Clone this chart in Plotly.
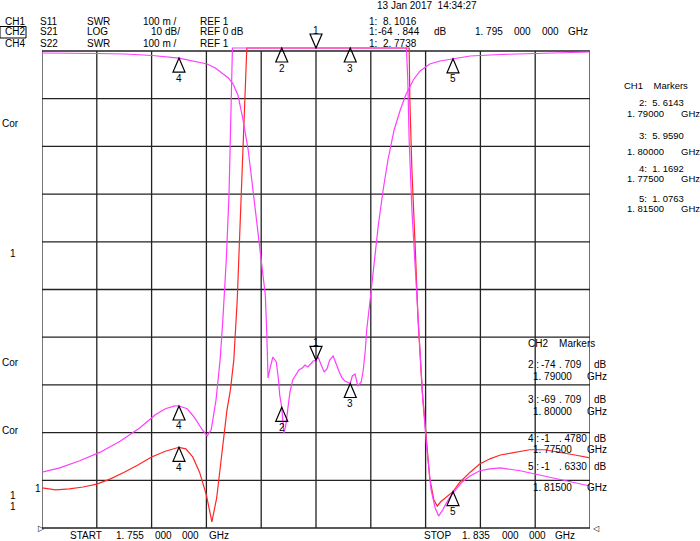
import numpy as np
import plotly.graph_objects as go

f_start, f_stop = 1.755, 1.835          # GHz
freq_div = 0.008                        # GHz / division
swr_ref, swr_div = 1.0, 0.1             # CH1/CH4 SWR 100 m / REF 1
db_ref, db_div = 0.0, 10.0              # CH2 LOG 10 dB / REF 0 dB

# CH1 S11 (SWR) - red
s11_freq = [1.755, 1.757, 1.759, 1.761, 1.763, 1.765, 1.767, 1.769, 1.771, 1.773, 1.775, 1.776,
            1.777, 1.778, 1.779, 1.7798, 1.7805, 1.781, 1.7815, 1.782, 1.7825, 1.783, 1.7835,
            1.784, 1.7845, 1.7849, 1.786, 1.788, 1.790, 1.795, 1.800, 1.804, 1.807, 1.8082,
            1.8086, 1.8087, 1.8090, 1.8095, 1.8099, 1.8105, 1.8111, 1.8116, 1.8122, 1.8127,
            1.8132, 1.8140, 1.815, 1.8160, 1.8175, 1.8189, 1.8204, 1.8219, 1.8241, 1.8262,
            1.8284, 1.8306, 1.8328, 1.835]
s11_swr = [1.084, 1.080, 1.082, 1.086, 1.092, 1.103, 1.117, 1.132, 1.149, 1.161, 1.1692, 1.166,
           1.149, 1.117, 1.069, 1.013, 1.063, 1.122, 1.184, 1.247, 1.289, 1.352, 1.478,
           1.667, 1.876, 2.05, 3.2, 4.6, 5.6143, 8.1016, 5.959, 4.4, 3.1, 2.3,
           2.02, 1.897, 1.751, 1.583, 1.436, 1.289, 1.184, 1.105, 1.059, 1.046,
           1.055, 1.065, 1.0763, 1.096, 1.117, 1.134, 1.145, 1.153, 1.159, 1.164,
           1.164, 1.159, 1.153, 1.147]

# CH4 S22 (SWR) - magenta
s22_freq = [1.755, 1.7576, 1.7605, 1.7635, 1.7664, 1.7693, 1.7715, 1.773, 1.7744, 1.775, 1.7762,
            1.7773, 1.7784, 1.7791, 1.7797, 1.7801, 1.7804, 1.7807, 1.781, 1.7814, 1.7819,
            1.7823, 1.7826, 1.7828, 1.785, 1.790, 1.795, 1.800, 1.805, 1.808, 1.8082, 1.8084,
            1.8086, 1.809, 1.8095, 1.810, 1.8106, 1.8112, 1.8118, 1.8124, 1.8129, 1.8135,
            1.8143, 1.815, 1.8163, 1.8175, 1.8189, 1.8204, 1.8219, 1.8248, 1.8277, 1.8306,
            1.8328, 1.835]
s22_swr = [1.117, 1.126, 1.141, 1.159, 1.182, 1.210, 1.237, 1.250, 1.256, 1.2558, 1.250,
           1.231, 1.206, 1.193, 1.206, 1.237, 1.268, 1.310, 1.352, 1.436, 1.562,
           1.698, 1.897, 2.05, 2.4, 2.6, 2.7738, 2.6, 2.4, 2.1, 2.02, 1.939,
           1.813, 1.667, 1.541, 1.394, 1.268, 1.164, 1.080, 1.042, 1.025, 1.038,
           1.059, 1.073, 1.096, 1.109, 1.120, 1.124, 1.126, 1.120, 1.111, 1.103,
           1.096, 1.088]

# CH2 S21 (LOG, dB) - magenta
s21_freq = [1.755, 1.7591, 1.763, 1.7671, 1.7711, 1.775, 1.7773, 1.7791, 1.7803, 1.7813, 1.7822,
            1.7829, 1.7836, 1.7843, 1.7851, 1.7858, 1.7865, 1.7871, 1.7876, 1.7878, 1.788,
            1.7883, 1.7887, 1.7892, 1.7895, 1.7897, 1.79, 1.7903, 1.7906, 1.7909, 1.7912,
            1.7916, 1.7921, 1.7925, 1.793, 1.7934, 1.7938, 1.7943, 1.7946, 1.795, 1.7953,
            1.7957, 1.7962, 1.7966, 1.797, 1.7975, 1.7979, 1.7984, 1.7988, 1.7992, 1.80,
            1.8003, 1.8007, 1.8011, 1.8016, 1.8019, 1.8022, 1.8024, 1.8029, 1.8035, 1.8041,
            1.8048, 1.8055, 1.8064, 1.8073, 1.8081, 1.8092, 1.8102, 1.8116, 1.8131, 1.815,
            1.8175, 1.8219, 1.8284, 1.835]
s21_db = [-0.42, -0.42, -0.52, -0.63, -0.94, -1.478, -2.10, -2.73, -3.56, -4.61, -5.66,
          -6.92, -9.22, -14.05, -20.75, -29.14, -37.53, -44.23, -51.15, -58.49, -68.55,
          -66.46, -64.15, -65.20, -68.55, -72.12, -74.709, -80.08, -78.41, -74.84, -71.49,
          -68.97, -67.71, -66.88, -66.46, -65.83, -66.25, -65.41, -64.99, -64.844, -64.15,
          -65.62, -67.30, -66.67, -64.78, -63.94, -65.62, -67.30, -68.55, -69.18, -69.709,
          -68.13, -67.71, -70.23, -69.39, -66.88, -62.68, -58.49, -52.20, -43.82, -36.48,
          -29.14, -22.85, -16.56, -12.37, -9.22, -6.08, -4.19, -2.73, -2.10, -1.633,
          -1.05, -0.73, -0.42, -0.21]

# markers
mk_ids = ["1", "2", "3", "4", "5"]
mk_freq = [1.795, 1.790, 1.800, 1.775, 1.815]
mk_s11 = [8.1016, 5.6143, 5.9590, 1.1692, 1.0763]
mk_s21 = [-64.844, -74.709, -69.709, -1.4780, -1.6330]
mk_s22_ids = ["1", "4"]
mk_s22_freq = [1.795, 1.775]
mk_s22 = [2.7738, 1.2558]

# ---------------- geometry ----------------
W, H = 700, 541
L, R = 42, 590              # plot-area pixel edges (x)
T, B = 28, 532              # plot-area pixel edges (y)
GT, GB = 51, 528            # grid top / bottom
ppd = (GB - GT) / 10.0      # px per division

swr_lo = swr_ref - (B - GB) / ppd * swr_div
swr_hi = swr_ref + 10 * swr_div + (GT - T) / ppd * swr_div
db_lo = db_ref - 10 * db_div - (B - GB) / ppd * db_div
db_hi = db_ref + (GT - T) / ppd * db_div
swr_clip = swr_ref + 10 * swr_div + 3 / ppd * swr_div   # off-scale values pinned just above top

MAG = "#ff3cff"
RED = "#ff2626"

fig = go.Figure()
fig.add_trace(go.Scatter(x=s11_freq, y=np.minimum(s11_swr, swr_clip), mode="lines",
                         line=dict(color=RED, width=1.2), yaxis="y", hoverinfo="skip"))
fig.add_trace(go.Scatter(x=s22_freq, y=np.minimum(s22_swr, swr_clip), mode="lines",
                         line=dict(color=MAG, width=1.2), yaxis="y", hoverinfo="skip"))
fig.add_trace(go.Scatter(x=s21_freq, y=s21_db, mode="lines",
                         line=dict(color=MAG, width=1.2), yaxis="y2", hoverinfo="skip"))

shapes = []
# grid
for i in range(11):
    fx = f_start + i * freq_div
    shapes.append(dict(type="line", xref="x", yref="y", x0=fx, x1=fx,
                       y0=swr_ref, y1=swr_ref + 10 * swr_div,
                       line=dict(color="#777777" if i == 0 else "#222222", width=2 if i == 0 else 1.3),
                       layer="below"))
for j in range(11):
    yv = swr_ref + j * swr_div
    shapes.append(dict(type="line", xref="x", yref="y", x0=f_start, x1=f_stop, y0=yv, y1=yv,
                       line=dict(color="#222222", width=1.3), layer="below"))

UP = "M0,0 L-6,-14 L6,-14 Z"
DOWN = "M0,0 L-6,14 L6,14 Z"
annotations = []
FONT = dict(family="Liberation Sans, Arial, sans-serif", size=10, color="black")


def marker(fx, val, yref, label):
    down = label == "1"
    shapes.append(dict(type="path", xref="x", yref=yref, xsizemode="pixel", ysizemode="pixel",
                       xanchor=fx, yanchor=val, path=DOWN if down else UP,
                       line=dict(color="black", width=1.2), fillcolor="rgba(0,0,0,0)"))
    annotations.append(dict(x=fx, y=val, xref="x", yref=yref, text=label, showarrow=False,
                            yshift=18 if down else -20, font=FONT, xanchor="center",
                            yanchor="middle"))


for lab, fx, v in zip(mk_ids, mk_freq, mk_s11):
    marker(fx, min(v, swr_clip), "y", lab)
for lab, fx, v in zip(mk_ids, mk_freq, mk_s21):
    marker(fx, v, "y2", lab)
for lab, fx, v in zip(mk_s22_ids, mk_s22_freq, mk_s22):
    if lab != "1":
        marker(fx, min(v, swr_clip), "y", lab)


def txt(x, y, s, anchor="left", size=10):
    annotations.append(dict(xref="paper", yref="paper", x=(x - L) / (R - L), y=(B - y) / (B - T),
                            text=s, showarrow=False, xanchor=anchor, yanchor="middle",
                            font=dict(family=FONT["family"], size=size, color="black")))


# header, left block
for y, row in [(21, ["CH1", "S11", "SWR", "100 m /", "REF 1"]),
               (32, ["CH2", "S21", "LOG", "10 dB/", "REF 0 dB"]),
               (43, ["CH4", "S22", "SWR", "100 m /", "REF 1"])]:
    xs = [3, 38, 85, 141 if row[3].startswith("100") else 149, 198]
    for xx, s in zip(xs, row):
        txt(xx, y, s)
shapes.append(dict(type="rect", xref="paper", yref="paper",
                   x0=(0 - L) / (R - L), x1=(26 - L) / (R - L),
                   y0=(B - 38) / (B - T), y1=(B - 26.5) / (B - T),
                   line=dict(color="black", width=1)))

# header, right block
txt(375, 6, "13 Jan 2017  14:34:27")
txt(367, 21.5, "1:  8. 1016")
for xx, s in [(367, "1:"), (376, "-64"), (395, ". 844"), (432, "dB"), (473, "1. 795"),
              (512, "000"), (540, "000"), (566, "GHz")]:
    txt(xx, 32, s)
txt(367, 43, "1:  2. 7738")

# CH1 marker panel
txt(622, 85, "CH1    Markers", size=9.5)
for y1, y2, s, fq in [(102, 114, "2:  5. 6143", "1. 79000"), (135, 151, "3:  5. 9590", "1. 80000"),
                      (168, 178, "4:  1. 1692", "1. 77500"), (198, 209, "5:  1. 0763", "1. 81500")]:
    txt(637, y1, s, size=9.5)
    txt(625, y2, fq, size=9.5)
    txt(679, y2, "GHz", size=9.5)

# CH2 marker panel
txt(526, 343, "CH2    Markers")
for y1, y2, n, a, b, fq in [(364, 376, "2 :", "-74", ". 709", "1. 79000"),
                            (399, 411, "3 :", "-69", ". 709", "1. 80000"),
                            (438, 449, "4 :", "-1", ". 4780", "1. 77500"),
                            (466, 487, "5 :", "-1", ". 6330", "1. 81500")]:
    txt(526, y1, n)
    txt(539, y1, a)
    txt(557, y1, b)
    txt(592, y1, "dB")
    txt(531, y2, fq)
    txt(585, y2, "GHz")

# left side annotations
for x, y, s in [(0, 123, "Cor"), (8, 254, "1"), (0, 362, "Cor"), (0, 430, "Cor"),
                (33, 488, "1"), (8, 495, "1"), (8, 506, "1")]:
    txt(x, y, s)
txt(36, 528, "▷", size=8)
txt(591, 528, "◁", size=8)

# bottom
for xx, s in [(68, "START"), (114, "1. 755"), (153, "000"), (180, "000"), (207, "GHz"),
              (422, "STOP"), (460, "1. 835"), (500, "000"), (527, "000"), (553, "GHz")]:
    txt(xx, 535.5, s)

fig.update_layout(
    width=W, height=H,
    margin=dict(l=L, r=W - R, t=T, b=H - B, pad=0),
    paper_bgcolor="white", plot_bgcolor="white",
    showlegend=False,
    xaxis=dict(range=[f_start, f_stop], showgrid=False, zeroline=False, showticklabels=False,
               ticks="", showline=False, fixedrange=True),
    yaxis=dict(range=[swr_lo, swr_hi], showgrid=False, zeroline=False, showticklabels=False,
               ticks="", showline=False, fixedrange=True),
    yaxis2=dict(range=[db_lo, db_hi], overlaying="y", showgrid=False, zeroline=False,
                showticklabels=False, ticks="", showline=False, fixedrange=True),
    shapes=shapes,
    annotations=annotations,
)

fig.write_html("out.html", config={"displayModeBar": False},
               post_script="document.body.style.margin='0px';document.body.style.overflow='hidden';")
